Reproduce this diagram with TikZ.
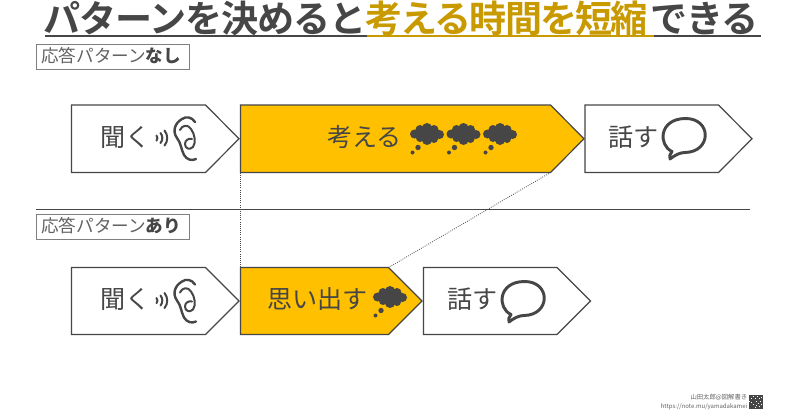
\documentclass[tikz,border=0pt]{standalone}
\usepackage{fontspec}
\setmainfont{Noto Sans CJK JP}
\newfontfamily\headfont[LetterSpace=-5,BoldFont={Noto Sans CJK JP Bold}]{Noto Sans CJK JP}
\newfontfamily\headkana[LetterSpace=-3,BoldFont={Noto Sans CJK JP Bold}]{Noto Sans CJK JP}
\usetikzlibrary{shapes.geometric}
\definecolor{ink}{HTML}{464646}
\definecolor{softink}{HTML}{636363}
\definecolor{amber}{HTML}{FFC000}
\definecolor{ochre}{HTML}{C99A00}
\definecolor{framegrey}{HTML}{7F7F7F}
\newcommand{\pxfont}[1]{\fontsize{#1}{#1}\selectfont}
\tikzset{
  x=0.75pt, y=-0.75pt,
  plate/.style={draw=ink, line width=0.9pt, line join=miter, fill=white},
  plateamber/.style={plate, fill=amber},
  steplabel/.style={text=ink, font=\pxfont{18.8pt}, inner sep=0pt, anchor=west},
  patternbox/.style={draw=framegrey, line width=0.7pt, minimum width=115pt, minimum height=19pt, inner sep=0pt, anchor=north west, fill=white},
  guide/.style={draw=ink, line width=0.6pt, densely dotted},
  iconline/.style={draw=ink, line cap=round, line join=round},
  titletext/.style={font=\headfont\bfseries\pxfont{27.8pt}, inner sep=0pt, anchor=base west},
  titlekana/.style={font=\headkana\bfseries\pxfont{27.8pt}, inner sep=0pt, anchor=base west},
  pics/thinkcloud/.style={code={
    \fill[ink] (0,0) ellipse[x radius=12, y radius=8]
      (-12.5,0) circle[radius=4.5] (-7,-4.5) circle[radius=4.5] (0,-6) circle[radius=5]
      (7,-4.5) circle[radius=4.5] (12.5,0.5) circle[radius=4.5] (7,5) circle[radius=4]
      (0,6) circle[radius=5] (-7,4) circle[radius=4];
    \fill[ink] (-9,13.5) circle[radius=2.7] (-14.5,18.5) circle[radius=2];
  }},
  pics/ear/.style={code={
    \draw[iconline, line width=1.8pt]
      (40,-16) .. controls (37,-21) and (31,-22) .. (27,-19)
      .. controls (20,-15) and (17,-7) .. (22,0)
      .. controls (26,5) and (26,11) .. (29,17)
      .. controls (32,22) and (37,23) .. (41,21);
    \draw[iconline, line width=1.5pt]
      (25,-8) .. controls (27,-13) and (33,-14) .. (36,-9)
      .. controls (40,-4) and (41,5) .. (38,9)
      .. controls (35,12) and (30,11) .. (30,6)
      .. controls (30,2) and (34,0) .. (37,1);
    \draw[iconline, line width=1.5pt]
      (1.5,-2.5) arc[start angle=-40, end angle=40, radius=4]
      (5.5,-5) arc[start angle=-40, end angle=40, radius=7.8]
      (9.5,-7.5) arc[start angle=-40, end angle=40, radius=11.7];
  }},
  pics/speech/.style={code={
    \draw[ink, line width=2.2pt, line join=round, fill=none]
      (-12,14.5) .. controls (-26,8) and (-25,-18) .. (1,-18.5)
      .. controls (28,-19) and (28,15) .. (1,15.5)
      .. controls (-4,15.5) and (-9,18) .. (-14,22)
      .. controls (-15,19) and (-14,17) .. (-12,14.5) -- cycle;
  }},
}
% Pentagonal step shape: left edge x1, right tip x2, top y1, bottom y2
\newcommand{\stepplate}[6]{%
  \coordinate (#1-nw) at (#3,#5);
  \coordinate (#1-sw) at (#3,#6);
  \coordinate (#1-ne) at (#4-33.5,#5);
  \coordinate (#1-se) at (#4-33.5,#6);
  \coordinate (#1-tip) at (#4,{(#5+#6)/2});
  \path[#2] (#1-nw) -- (#1-ne) -- (#1-tip) -- (#1-se) -- (#1-sw) -- cycle;
}
\begin{document}
\begin{tikzpicture}
\useasboundingbox (0,0) rectangle (800,419);
\fill[white] (0,0) rectangle (800,419);

% Headline with its two-coloured underline
\coordinate (rule-a) at (45,35.5);
\coordinate (rule-b) at (367,35.5);
\coordinate (rule-c) at (654,35.5);
\coordinate (rule-d) at (761,35.5);
\node[titlekana, text=ink] (title-a) at (43,32.5) {パターンを決めると};
\node[titletext, text=ochre] (title-b) at (365,32.5) {考える時間を短縮};
\node[titlekana, text=ink] (title-c) at (650,32.5) {できる};
\draw[ink, line width=1.5pt] (rule-a) -- (rule-b);
\draw[ochre, line width=1.5pt] (rule-b) -- (rule-c);
\draw[ink, line width=1.5pt] (rule-c) -- (rule-d);

% Section frames
\node[patternbox] (frame-none) at (36,44) {};
\node[anchor=west, inner sep=0pt, text=softink, font=\pxfont{13.2pt}] (text-none) at (41,56) {応答パターン\textbf{\textcolor{ink}{なし}}};
\node[patternbox] (frame-with) at (36,214) {};
\node[anchor=west, inner sep=0pt, text=softink, font=\pxfont{13.2pt}] (text-with) at (41,226) {応答パターン\textbf{\textcolor{ink}{あり}}};

% Divider between the two cases
\coordinate (divider-l) at (36,209.5);
\coordinate (divider-r) at (750,209.5);
\draw[ink, line width=1pt] (divider-l) -- (divider-r);

% Upper row
\stepplate{listen1}{plate}{71.5}{239}{105}{172.5}
\stepplate{think1}{plateamber}{240.5}{584}{105}{172.5}
\stepplate{talk1}{plate}{585}{752}{105}{172.5}

% Lower row
\stepplate{listen2}{plate}{71.5}{239}{267.5}{334.5}
\stepplate{think2}{plateamber}{240.5}{422}{267.5}{334.5}
\stepplate{talk2}{plate}{423.5}{590.5}{267.5}{334.5}

% Dotted guides that compare the two durations
\draw[guide] (think1-sw) -- (think2-nw);
\draw[guide] (think1-se) -- (think2-ne);

% Step captions
\node[steplabel] (cap-listen1) at (100.5,137) {聞く};
\node[steplabel] (cap-think1) at (327,137) {考える};
\node[steplabel] (cap-talk1) at (608,137) {話す};
\node[steplabel] (cap-listen2) at (100.5,299.5) {聞く};
\node[steplabel] (cap-think2) at (267,299.5) {思い出す};
\node[steplabel] (cap-talk2) at (447,299.5) {話す};

% Icons
\pic at (155,138) {ear};
\pic at (155,300.5) {ear};
\pic at (427,134) {thinkcloud};
\pic at (463.5,134) {thinkcloud};
\pic at (500,134) {thinkcloud};
\pic at (390,297) {thinkcloud};
\pic at (684,137) {speech};
\pic at (523,300) {speech};

% Credit line and code block
\node[anchor=east, inner sep=0pt, text=softink, font=\pxfont{4.75pt}] (credit-a) at (747.5,397.5) {山田太郎@図解書き};
\node[anchor=east, inner sep=0pt, text=softink, font=\pxfont{4.5pt}] (credit-b) at (747.5,406.5) {https://note.mu/yamadakamei};
\fill[ink] (749,395) rectangle (763,409);
\foreach \cx/\cy in {753/396,755/398,757/396,759/398,756/401,758/403,760/401,751/402,753/404,756/405,759/406,761/404,755/407,751/398,761/397,749/401}
  \fill[white] (\cx,\cy) rectangle ++(1.3,1.3);
\end{tikzpicture}
\end{document}
